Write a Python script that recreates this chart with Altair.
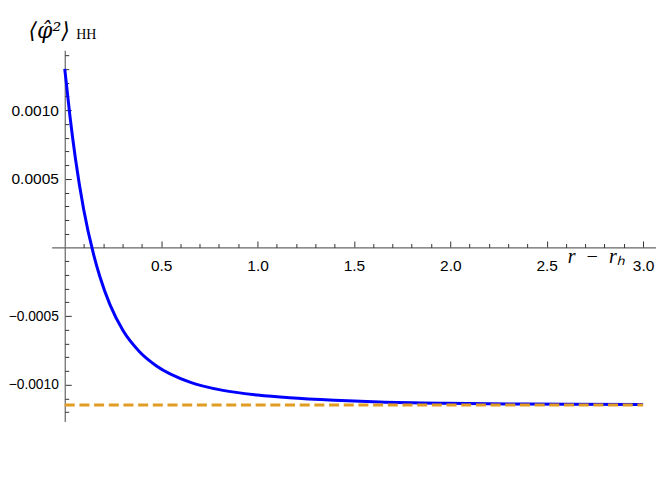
import altair as alt
import pandas as pd

# ---- data ----
r_vals = [0.0, 0.027, 0.055, 0.098, 0.148, 0.182, 0.234, 0.303, 0.389, 0.476,
          0.649, 0.821, 1.0, 1.167, 1.4, 1.633, 1.979, 2.4, 3.0]
phi2_vals = [0.001301, 0.000957, 0.000652, 0.000279, -0.000042, -0.000212,
             -0.000415, -0.000607, -0.000761, -0.000863, -0.000981, -0.001041,
             -0.001075, -0.0010955, -0.0011135, -0.0011254, -0.001135,
             -0.0011411, -0.001145]
asym_r = [0.0, 3.0]
asym_vals = [-0.001148, -0.001148]

x_major = [0.5, 1.0, 1.5, 2.0, 2.5, 3.0]
x_minor = [0.1, 0.2, 0.3, 0.4, 0.6, 0.7, 0.8, 0.9, 1.1, 1.2, 1.3, 1.4,
           1.6, 1.7, 1.8, 1.9, 2.1, 2.2, 2.3, 2.4, 2.6, 2.7, 2.8, 2.9]
y_major = [-0.0010, -0.0005, 0.0005, 0.0010]
y_minor = [-0.0012, -0.0011, -0.0009, -0.0008, -0.0007, -0.0006,
           -0.0004, -0.0003, -0.0002, -0.0001,
           0.0001, 0.0002, 0.0003, 0.0004, 0.0006, 0.0007,
           0.0008, 0.0009, 0.0011, 0.0012, 0.0013, 0.0014]

x_title = "r\u2002\u2212\u2002r\u2095"
y_title = "\u27e8\u03c6\u0302\u00b2\u27e9"
y_sub = "HH"

# ---- layout ----
x_dom = [-0.0679, 3.067]
y_dom = [-0.0012678, 0.0014374]
W, H = 605, 371.7

x_axis_offset = -H * y_dom[1] / (y_dom[1] - y_dom[0])
y_axis_offset = -W * x_dom[1] / (x_dom[1] - x_dom[0])

curve_df = pd.DataFrame({"r": r_vals, "v": phi2_vals})
asym_df = pd.DataFrame({"r": asym_r, "v": asym_vals})

x_scale = alt.Scale(domain=x_dom, nice=False, zero=False)
y_scale = alt.Scale(domain=y_dom, nice=False, zero=False)

common = dict(grid=False, tickColor="#333333", tickWidth=1,
              labelOverlap=False, labelFlush=False, labelBound=False)

x_axis_major = alt.Axis(
    orient="top", offset=x_axis_offset, values=x_major, tickSize=6.5,
    domainColor="#666666", domainWidth=1.2, format=".1f",
    labelFont="Liberation Sans", labelFontSize=15.5, labelColor="#000000",
    labelBaseline="alphabetic", labelAlign="center", labelPadding=-29.5,
    title=x_title, titleFont="Liberation Serif", titleFontStyle="italic",
    titleFontWeight="normal", titleFontSize=20, titleColor="#000000",
    titleAngle=0, titleAlign="center", titleBaseline="alphabetic",
    titleX=544.6, titleY=15.5, **common,
)
x_axis_minor = alt.Axis(
    orient="top", offset=x_axis_offset, values=x_minor, tickSize=4,
    domain=False, labels=False, title=None, **common,
)

y_axis_major = alt.Axis(
    orient="right", offset=y_axis_offset, values=y_major, tickSize=6.5,
    domainColor="#666666", domainWidth=1.2, format=".4f",
    labelFont="Liberation Sans",
    labelFontSize={"condition": {"test": "datum.value < 0", "value": 13.8}, "value": 15.5},
    labelColor="#000000",
    labelAlign="right", labelBaseline="middle", labelPadding=-12.9,
    title=y_title, titleFont="DejaVu Serif", titleFontStyle="italic",
    titleFontWeight="normal", titleFontSize=22, titleColor="#000000",
    titleAngle=0, titleAlign="left", titleBaseline="alphabetic",
    titleX=-36.8, titleY=-13, **common,
)
y_axis_minor = alt.Axis(
    orient="right", offset=y_axis_offset, values=y_minor, tickSize=4,
    domain=False, labels=False,
    title=y_sub, titleFont="Liberation Serif", titleFontStyle="normal",
    titleFontWeight="normal", titleFontSize=14, titleColor="#000000",
    titleAngle=0, titleAlign="left", titleBaseline="alphabetic",
    titleX=11, titleY=-12, **common,
)

curve = alt.Chart(curve_df).mark_line(
    color="#0000ff", strokeWidth=3, interpolate="monotone"
).encode(
    x=alt.X("r:Q", scale=x_scale, axis=x_axis_major),
    y=alt.Y("v:Q", scale=y_scale, axis=y_axis_major),
)

asym = alt.Chart(asym_df).mark_line(
    color="#e19c24", strokeWidth=3, strokeDash=[10, 4.7]
).encode(
    x=alt.X("r:Q", scale=x_scale, axis=x_axis_minor),
    y=alt.Y("v:Q", scale=y_scale, axis=y_axis_minor),
)

chart = alt.layer(curve, asym).resolve_axis(
    x="independent", y="independent"
).properties(
    width=W, height=H,
    autosize=alt.AutoSizeParams(type="none"),
    padding={"left": 43.7, "top": 42, "right": 0, "bottom": 10},
).configure_view(stroke=None)

chart.save("out.html", embed_options={"renderer": "svg", "actions": False})
